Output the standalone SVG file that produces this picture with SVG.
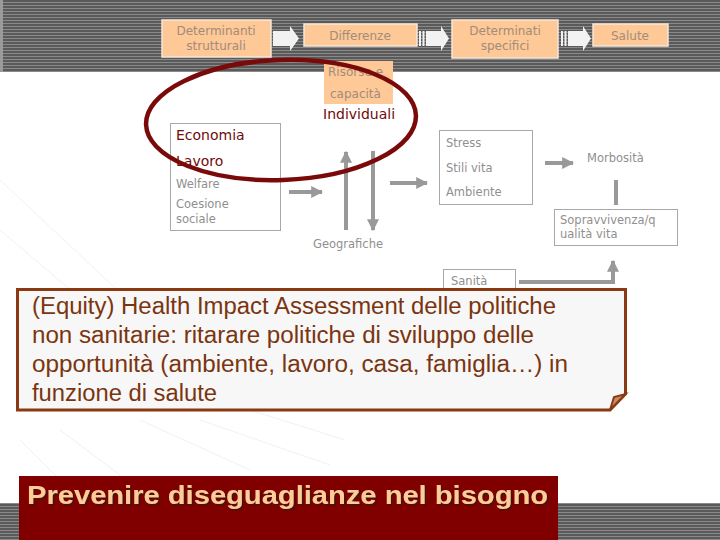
<svg xmlns="http://www.w3.org/2000/svg" width="720" height="540" viewBox="0 0 720 540">
<defs>
<pattern id="stripes" width="4" height="3" patternUnits="userSpaceOnUse">
<rect width="4" height="3" fill="#5a5a5a"/>
<rect width="4" height="1" y="2" fill="#8a8a8a"/>
</pattern>
<marker id="ah" viewBox="0 0 10 10" refX="9" refY="5" markerWidth="3" markerHeight="3" orient="auto" markerUnits="strokeWidth">
<path d="M0,0 L10,5 L0,10 z" fill="#999"/>
</marker>
<filter id="sh" x="-5%" y="-20%" width="110%" height="140%">
<feDropShadow dx="1.5" dy="1.5" stdDeviation="0" flood-color="#3a1808" flood-opacity="0.9"/>
</filter>
</defs>
<style>
.pb{fill:#fec897;stroke:#f6e7da;stroke-width:1.5}
.pt{font-family:"DejaVu Sans",sans-serif;font-size:12px;fill:#a28c7a;text-anchor:middle}
.gb{fill:none;stroke:#a8a8a8;stroke-width:1}
.gt{font-family:"DejaVu Sans",sans-serif;font-size:11.5px;fill:#8f8f8f}
.rt{font-family:"DejaVu Sans",sans-serif;font-size:14px;fill:#6e0b0b}
.ar{stroke:#999;stroke-width:4;fill:none;marker-end:url(#ah)}
.big{font-family:"Liberation Sans",sans-serif;font-size:23px;fill:#7a3510}
.wa{fill:#f2f2f2}
</style>
<rect width="720" height="540" fill="#ffffff"/>
<g id="bg-lines" stroke="#f1f1f1" stroke-width="1">
<line x1="0" y1="180" x2="160" y2="330"/>
<line x1="0" y1="230" x2="200" y2="400"/>
<line x1="20" y1="440" x2="80" y2="500"/>
<line x1="60" y1="430" x2="120" y2="475"/>
<line x1="140" y1="420" x2="250" y2="470"/>
<line x1="200" y1="420" x2="330" y2="465"/>
<line x1="250" y1="410" x2="345" y2="440"/>
</g>
<rect x="0" y="0" width="720" height="72" fill="url(#stripes)"/>
<rect x="0" y="0" width="3" height="72" fill="#9a9a9a"/>
<rect x="0" y="503" width="19" height="37" fill="url(#stripes)"/>
<rect x="558" y="503" width="162" height="37" fill="url(#stripes)"/>

<g id="connectors">
<path class="wa" d="M273,31 H290 V26 L299,38.5 L290,51 V46 H273 z"/>
<path class="wa" d="M426,31 H441 V26 L449,38.5 L441,51 V46 H426 z"/>
<rect x="419" y="31" width="2" height="15" fill="#f2f2f2"/>
<rect x="422.5" y="31" width="2" height="15" fill="#f2f2f2"/>
<path class="wa" d="M568,31 H583 V26 L591,38.5 L583,51 V46 H568 z"/>
<rect x="561" y="31" width="2" height="15" fill="#f2f2f2"/>
<rect x="564.5" y="31" width="2" height="15" fill="#f2f2f2"/>
<line class="ar" x1="289" y1="192" x2="322" y2="192"/>
<line class="ar" x1="346" y1="230" x2="346" y2="152"/>
<line class="ar" x1="373" y1="151" x2="373" y2="230"/>
<line class="ar" x1="390" y1="183" x2="427" y2="183"/>
<line class="ar" x1="545" y1="163" x2="573" y2="163"/>
<line x1="616" y1="180" x2="616" y2="205" stroke="#999" stroke-width="4"/>
<path class="ar" d="M519,282 H613 V261" stroke-width="3"/>
</g>

<g id="n-strutturali">
<rect class="pb" x="162" y="20" width="109" height="37"/>
<text class="pt" x="216" y="35">Determinanti</text>
<text class="pt" x="216" y="50">strutturali</text>
</g>
<g id="n-differenze">
<rect class="pb" x="304" y="24" width="113" height="22"/>
<text class="pt" x="360" y="40">Differenze</text>
</g>
<g id="n-specifici">
<rect class="pb" x="452" y="20" width="106" height="38"/>
<text class="pt" x="505" y="35">Determinati</text>
<text class="pt" x="505" y="50">specifici</text>
</g>
<g id="n-salute">
<rect class="pb" x="593" y="24" width="75" height="22"/>
<text class="pt" x="630" y="40">Salute</text>
</g>
<g id="n-risorse">
<rect x="324" y="61" width="69" height="43" fill="#fec897"/>
<text class="pt" x="328" y="76" style="text-anchor:start">Risorse e</text>
<text class="pt" x="330" y="98" style="text-anchor:start">capacità</text>
</g>
<g id="n-individuali">
<text class="rt" x="323" y="119">Individuali</text>
</g>
<g id="n-economia">
<rect class="gb" x="170.5" y="123.5" width="110" height="107"/>
<text class="rt" x="176" y="140">Economia</text>
<text class="rt" x="176" y="166">Lavoro</text>
<text class="gt" x="176" y="188">Welfare</text>
<text class="gt" x="176" y="208">Coesione</text>
<text class="gt" x="176" y="223">sociale</text>
</g>
<g id="n-geografiche">
<text class="gt" x="313" y="248">Geografiche</text>
</g>
<g id="n-stress">
<rect class="gb" x="439.5" y="130.5" width="93" height="74"/>
<text class="gt" x="446" y="147">Stress</text>
<text class="gt" x="446" y="172">Stili vita</text>
<text class="gt" x="446" y="196">Ambiente</text>
</g>
<g id="n-morbosita">
<text class="gt" x="587" y="162">Morbosità</text>
</g>
<g id="n-sopravvivenza">
<rect class="gb" x="554.5" y="209.5" width="123" height="36"/>
<text class="gt" x="560" y="224">Sopravvivenza/q</text>
<text class="gt" x="560" y="238">ualità vita</text>
</g>
<g id="n-sanita">
<rect class="gb" x="443.5" y="269.5" width="72" height="24"/>
<text class="gt" x="451" y="285">Sanità</text>
</g>
<g id="ellipse">
<ellipse cx="281" cy="120" rx="135" ry="60" transform="rotate(-2 281 120)" fill="none" stroke="#7a0a0a" stroke-width="4.5"/>
</g>
<g id="n-hia">
<path d="M17.5,289.5 H625.5 V394 L610,410 H17.5 z" fill="#f7f7f7" stroke="#8a3a10" stroke-width="3"/>
<path d="M610,410 L614,397 L625.5,394 z" fill="#c98a6a" stroke="#8a3a10" stroke-width="2"/>
<text class="big" x="32" y="314" textLength="524" lengthAdjust="spacingAndGlyphs">(Equity) Health Impact Assessment delle politiche</text>
<text class="big" x="32" y="343" textLength="502" lengthAdjust="spacingAndGlyphs">non sanitarie: ritarare politiche di sviluppo delle</text>
<text class="big" x="32" y="372" textLength="536" lengthAdjust="spacingAndGlyphs">opportunità (ambiente, lavoro, casa,  famiglia…) in</text>
<text class="big" x="32" y="401" textLength="185" lengthAdjust="spacingAndGlyphs">funzione di salute</text>
</g>
<g id="n-prevenire">
<rect x="19" y="476" width="539" height="64" fill="#800000"/>
<text x="27" y="504" font-family="Liberation Sans, sans-serif" font-weight="bold" font-size="25" fill="#ffcc99" filter="url(#sh)" textLength="521" lengthAdjust="spacingAndGlyphs">Prevenire diseguaglianze nel bisogno</text>
</g>
</svg>
